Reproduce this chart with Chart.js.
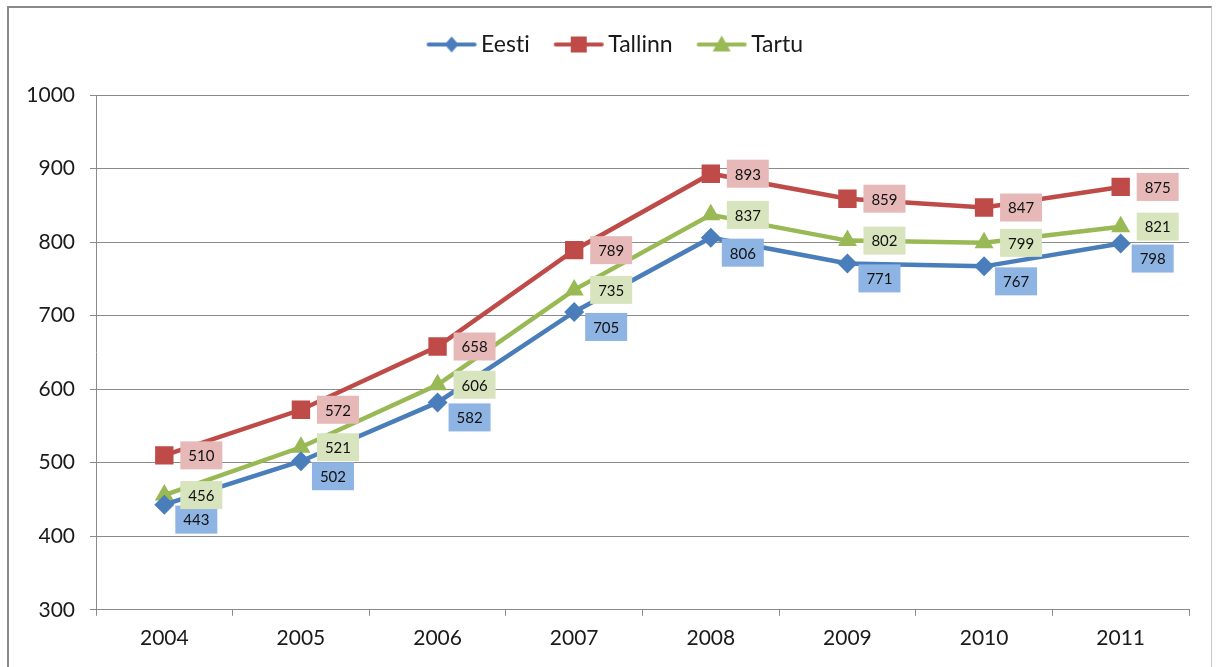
<!DOCTYPE html>
<html>
<head>
<meta charset="utf-8">
<script src="https://cdn.jsdelivr.net/npm/chart.js@4.4.1/dist/chart.umd.min.js"></script>
<style>
  html, body { margin: 0; padding: 0; background: #fff; }
  body { width: 1216px; height: 667px; overflow: hidden; position: relative; }
  #frame { position: absolute; left: 7px; top: 6px; width: 1205px; height: 720px;
    border-top: 2px solid #8a8a8a; border-left: 2px solid #8a8a8a; border-right: 1px solid #c8c8c8; box-sizing: border-box; }
  #wrap { position: absolute; left: 0; top: 0; width: 1216px; height: 667px; }
</style>
</head>
<body>
<div id="frame"></div>
<div id="wrap"><canvas id="c" width="1216" height="667"></canvas></div>
<script>
const categories = ['2004', '2005', '2006', '2007', '2008', '2009', '2010', '2011'];
const eesti   = [443, 502, 582, 705, 806, 771, 767, 798];
const tallinn = [510, 572, 658, 789, 893, 859, 847, 875];
const tartu   = [456, 521, 606, 735, 837, 802, 799, 821];
const seriesNames = ['Eesti', 'Tallinn', 'Tartu'];
const yTicks = [300, 400, 500, 600, 700, 800, 900, 1000];

const FONT = 'Lato, "Liberation Sans", sans-serif';
const colors = {
  Eesti:   { line: '#4A7EBB', label: '#8EB4E3', style: 'rectRot', r: 10 },
  Tallinn: { line: '#BE4B48', label: '#E6B9B8', style: 'rect', r: 13 },
  Tartu:   { line: '#98B954', label: '#D7E4BD', style: 'triangle', r: 11 }
};
const labelOffset = { Eesti: [32, 15], Tallinn: [37, 0], Tartu: [37, 0] };
const LEGEND_EXTRA = 29;
const LEGEND_SHIFT = 24;

function legendIcon(name) {
  const c = document.createElement('canvas');
  c.width = 52; c.height = 24;
  const ctx = c.getContext('2d');
  const col = colors[name].line;
  ctx.strokeStyle = col; ctx.lineWidth = 4; ctx.lineCap = 'round';
  ctx.beginPath(); ctx.moveTo(3, 12); ctx.lineTo(49, 12); ctx.stroke();
  ctx.fillStyle = col;
  ctx.beginPath();
  if (name === 'Eesti') {
    ctx.moveTo(26, 4); ctx.lineTo(33, 12); ctx.lineTo(26, 20); ctx.lineTo(19, 12);
  } else if (name === 'Tallinn') {
    ctx.rect(18, 4, 16, 16);
  } else {
    ctx.moveTo(26, 3); ctx.lineTo(35, 19); ctx.lineTo(17, 19);
  }
  ctx.closePath(); ctx.fill();
  return c;
}

const dataBySeries = { Eesti: eesti, Tallinn: tallinn, Tartu: tartu };
const datasets = seriesNames.map(name => ({
  label: name,
  data: dataBySeries[name],
  borderColor: colors[name].line,
  backgroundColor: colors[name].line,
  borderWidth: 4.5,
  pointStyle: colors[name].style,
  pointRadius: colors[name].r,
  pointHoverRadius: colors[name].r,
  pointBackgroundColor: colors[name].line,
  pointBorderColor: colors[name].line,
  pointBorderWidth: 0,
  tension: 0,
  fill: false
}));

const labelPlugin = {
  id: 'boxLabels',
  afterDatasetsDraw(chart) {
    const ctx = chart.ctx;
    ctx.save();
    ctx.font = '15px ' + FONT;
    ctx.textAlign = 'center';
    ctx.textBaseline = 'middle';
    chart.data.datasets.forEach((ds, i) => {
      const meta = chart.getDatasetMeta(i);
      const off = labelOffset[ds.label];
      meta.data.forEach((pt, j) => {
        const cx = pt.x + off[0], cy = pt.y + off[1];
        ctx.fillStyle = colors[ds.label].label;
        ctx.fillRect(cx - 21, cy - 14, 42, 28);
        ctx.fillStyle = '#111';
        ctx.fillText(String(ds.data[j]), cx, cy + 1);
      });
    });
    ctx.restore();
  }
};

const legendSpacer = {
  id: 'legendSpacer',
  afterInit(chart) {
    const lg = chart.legend;
    if (lg && !lg._patched) {
      const orig = lg.fit;
      lg.fit = function () { orig.call(this); this.height += LEGEND_EXTRA; };
      lg._patched = true;
    }
  },
  afterLayout(chart) {
    const lg = chart.legend;
    if (lg) { lg.left += LEGEND_SHIFT; lg.right += LEGEND_SHIFT; }
  },
  beforeDraw(chart) {
    try { chart.ctx.textRendering = 'optimizeSpeed'; } catch (e) {}
  }
};

new Chart(document.getElementById('c'), {
  type: 'line',
  data: { labels: categories, datasets },
  options: {
    responsive: false,
    animation: false,
    devicePixelRatio: 1,
    layout: { padding: { left: 0, right: 27, top: 2, bottom: 6 } },
    plugins: {
      tooltip: { enabled: false },
      legend: {
        position: 'top',
        align: 'center',
        labels: {
          usePointStyle: true,
          pointStyleWidth: 36,
          padding: 31,
          color: '#1a1a1a',
          font: { family: FONT, size: 23 },
          generateLabels(chart) {
            return chart.data.datasets.map((ds, i) => ({
              text: ds.label,
              pointStyle: legendIcon(ds.label),
              fillStyle: ds.borderColor,
              strokeStyle: ds.borderColor,
              lineWidth: 0,
              hidden: false,
              datasetIndex: i,
              fontColor: '#1a1a1a'
            }));
          }
        }
      }
    },
    scales: {
      x: {
        offset: true,
        grid: { offset: true, drawOnChartArea: false, drawTicks: true, tickLength: 6, color: '#8a8a8a', lineWidth: 1 },
        border: { display: true, color: '#8a8a8a', width: 1 },
        ticks: { color: '#1a1a1a', font: { family: FONT, size: 21 }, padding: 10, maxRotation: 0 }
      },
      y: {
        min: 300, max: 1000,
        afterFit(scale) { scale.width = 96; },
        afterBuildTicks(scale) { scale.ticks = yTicks.map(v => ({ value: v })); },
        grid: { color: '#8a8a8a', lineWidth: 1, tickLength: 6, drawTicks: true },
        border: { display: true, color: '#8a8a8a', width: 1 },
        ticks: { color: '#1a1a1a', font: { family: FONT, size: 21 }, padding: 15, callback: v => String(v) }
      }
    }
  },
  plugins: [labelPlugin, legendSpacer]
});
</script>
</body>
</html>
